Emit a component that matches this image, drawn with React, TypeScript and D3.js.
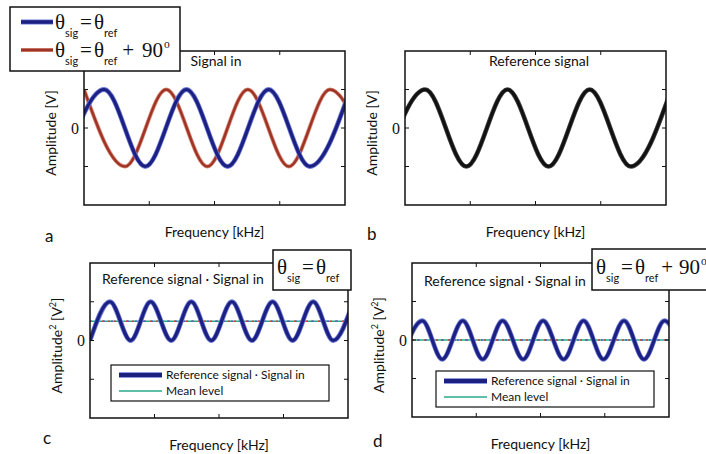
import * as React from 'react';
import * as d3 from 'd3';

// frequency axis (arbitrary units) and amplitude axis
const freqDomain = [0, 4];
const ampDomain = [-2, 2];
const freqTicks = [1, 2, 3];
const ampTicks = [-1, 0, 1];
const ampTickLabels = ['', '0', ''];

// extrema of each trace (x in freq units, y in amplitude)
const sigInX = [-0.31, 0.31, 0.94, 1.57, 2.2, 2.83, 3.46, 4.08];
const sigInY = [-1, 1, -1, 1, -1, 1, -1, 1];
const sig90X = [0, 0.63, 1.26, 1.89, 2.51, 3.14, 3.77, 4.4];
const sig90Y = [1, -1, 1, -1, 1, -1, 1, -1];
const refX = [-0.31, 0.31, 0.94, 1.57, 2.2, 2.83, 3.46, 4.08];
const refY = [-1, 1, -1, 1, -1, 1, -1, 1];
const prodX = [0, 0.31, 0.63, 0.94, 1.26, 1.57, 1.88, 2.2, 2.51, 2.83, 3.14, 3.46, 3.77, 4.08];
const prodY = [0, 1, 0, 1, 0, 1, 0, 1, 0, 1, 0, 1, 0, 1];
const prod90X = [-0.16, 0.16, 0.47, 0.79, 1.1, 1.41, 1.73, 2.04, 2.36, 2.67, 2.98, 3.3, 3.61, 3.93, 4.24];
const prod90Y = [-0.5, 0.5, -0.5, 0.5, -0.5, 0.5, -0.5, 0.5, -0.5, 0.5, -0.5, 0.5, -0.5, 0.5, -0.5];
const meanLevels = [0.5, 0];

const SANS = "Lato, 'Open Sans', sans-serif";
const SERIF = "'Liberation Serif', 'DejaVu Serif', serif";
const BLUE = '#1c2080';
const BLUE_EDGE = '#6a78d4';
const RED = '#9e3426';
const RED_EDGE = '#d88a78';
const TEAL = '#2aa88a';

const zip = (xs, ys) => xs.map((x, i) => [x, ys[i]]);

const Theta = ({ x, y, plus90, size = 21, gap = 8 }) => (
  <text x={x} y={y} fontFamily={SERIF} fontSize={size} fill="#111">
    θ
    <tspan fontFamily={SANS} fontSize={size * 0.52} dy={size * 0.4}>sig</tspan>
    <tspan dy={-size * 0.4} dx={2}>=</tspan>
    <tspan dx={2}>θ</tspan>
    <tspan fontFamily={SANS} fontSize={size * 0.52} dy={size * 0.4}>ref</tspan>
    {plus90 && <tspan dy={-size * 0.4} dx={gap - 3}>+</tspan>}
    {plus90 && <tspan dx={gap}>90</tspan>}
    {plus90 && <tspan fontSize={size * 0.55} dy={-size * 0.45} dx={1}>o</tspan>}
  </text>
);

const Panel = ({ id, left, top, w, h, traces, title, titleX, yLabel, squared, letter, letterX, letterY, mean }) => {
  const x = d3.scaleLinear().domain(freqDomain).range([left, left + w]);
  const y = d3.scaleLinear().domain(ampDomain).range([top + h, top]);
  const line = d3.line().x(d => x(d[0])).y(d => y(d[1])).curve(d3.curveMonotoneX);
  const tk = 4;
  return (
    <g>
      <defs>
        <clipPath id={'clip-' + id}>
          <rect x={left} y={top} width={w} height={h} />
        </clipPath>
      </defs>
      <g clipPath={`url(#clip-${id})`}>
        {mean !== undefined && (
          <g>
            <line x1={left} x2={left + w} y1={y(mean)} y2={y(mean)} stroke={TEAL} strokeWidth={1.5} />
            <line x1={left} x2={left + w} y1={y(mean)} y2={y(mean)} stroke="#d0463a" strokeWidth={1.5} strokeDasharray="2,4" />
            <line x1={left} x2={left + w} y1={y(mean)} y2={y(mean)} stroke="#5565c8" strokeWidth={1.5} strokeDasharray="2,6" strokeDashoffset={3} />
          </g>
        )}
        {traces.map((t, i) => (
          <g key={i}>
            <path d={line(t.data)} fill="none" stroke={t.edge} strokeWidth={t.width + 1.6} />
            <path d={line(t.data)} fill="none" stroke={t.color} strokeWidth={t.width} />
          </g>
        ))}
      </g>
      <rect x={left} y={top} width={w} height={h} fill="none" stroke="#111" strokeWidth={1.5} />
      {freqTicks.map(v => (
        <g key={'x' + v}>
          <line x1={x(v)} x2={x(v)} y1={top + h} y2={top + h - tk} stroke="#111" />
          <line x1={x(v)} x2={x(v)} y1={top} y2={top + tk} stroke="#111" />
        </g>
      ))}
      {ampTicks.map((v, i) => (
        <g key={'y' + v}>
          <line x1={left} x2={left + tk} y1={y(v)} y2={y(v)} stroke="#111" />
          <line x1={left + w} x2={left + w - tk} y1={y(v)} y2={y(v)} stroke="#111" />
          <text x={left - 5} y={y(v)} dy="0.35em" textAnchor="end" fontFamily={SERIF} fontSize={16} fill="#111">
            {ampTickLabels[i]}
          </text>
        </g>
      ))}
      {title && (
        <text x={titleX} y={top + 15} textAnchor="middle" fontFamily={SANS} fontSize={14} fill="#111">{title}</text>
      )}
      <text x={left + w / 2} y={top + h + 32} textAnchor="middle" fontFamily={SANS} fontSize={14} fill="#111">Frequency [kHz]</text>
      <text transform={`translate(${left - 28},${top + h / 2 + 5}) rotate(-90)`} textAnchor="middle" fontFamily={SANS} fontSize={14} fill="#111">
        {squared ? (
          <>Amplitude<tspan fontSize={9} dy={-6}>2</tspan><tspan dy={6}> [V</tspan><tspan fontSize={9} dy={-6}>2</tspan><tspan dy={6}>]</tspan></>
        ) : yLabel}
      </text>
      <text x={letterX} y={letterY} fontFamily={SANS} fontSize={17} fill="#111">{letter}</text>
    </g>
  );
};

const ProductLegend = ({ left, top }) => (
  <g>
    <rect x={left} y={top} width={218} height={36} fill="#fff" stroke="#111" strokeWidth={1.2} />
    <line x1={left + 8} x2={left + 51} y1={top + 10} y2={top + 10} stroke={BLUE_EDGE} strokeWidth={5.5} />
    <line x1={left + 8} x2={left + 51} y1={top + 10} y2={top + 10} stroke={BLUE} strokeWidth={4} />
    <text x={left + 55} y={top + 14} fontFamily={SANS} fontSize={12} fill="#111">Reference signal · Signal in</text>
    <line x1={left + 8} x2={left + 51} y1={top + 26} y2={top + 26} stroke={TEAL} strokeWidth={1.5} />
    <text x={left + 55} y={top + 30} fontFamily={SANS} fontSize={12} fill="#111">Mean level</text>
  </g>
);

export default function App() {
  const blue = { color: BLUE, edge: BLUE_EDGE, width: 3.2 };
  return (
    <svg width={706} height={454} style={{ position: 'absolute', left: 0, top: 0, background: '#fff' }}>
      <rect width={706} height={454} fill="#fff" />
      <Panel
        id="a" left={84} top={51} w={261} h={154}
        traces={[
          { data: zip(sig90X, sig90Y), color: RED, edge: RED_EDGE, width: 2.4 },
          { data: zip(sigInX, sigInY), ...blue },
        ]}
        title="Signal in" titleX={216} yLabel="Amplitude [V]" letter="a" letterX={45} letterY={242}
      />
      <Panel
        id="b" left={405} top={51} w={261} h={154}
        traces={[{ data: zip(refX, refY), color: '#111', edge: '#444', width: 3 }]}
        title="Reference signal" titleX={539} yLabel="Amplitude [V]" letter="b" letterX={367} letterY={240}
      />
      <Panel
        id="c" left={90} top={263} w={258} h={155}
        traces={[{ data: zip(prodX, prodY), ...blue }]}
        mean={meanLevels[0]} squared letter="c" letterX={43} letterY={444}
      />
      <Panel
        id="d" left={412} top={263} w={257} h={154}
        traces={[{ data: zip(prod90X, prod90Y), ...blue }]}
        mean={meanLevels[1]} squared letter="d" letterX={373} letterY={447}
      />
      {/* product panel titles */}
      <text x={102} y={284} fontFamily={SANS} fontSize={14} fill="#111">Reference signal · Signal in</text>
      <text x={424} y={286} fontFamily={SANS} fontSize={14} fill="#111">Reference signal · Signal in</text>
      <ProductLegend left={111} top={365} />
      <ProductLegend left={436} top={371} />

      {/* phase legend, panel a */}
      <rect x={10} y={7} width={170} height={64} fill="#fff" stroke="#111" strokeWidth={1.5} />
      <line x1={21} x2={53} y1={22} y2={22} stroke={BLUE_EDGE} strokeWidth={5} />
      <line x1={21} x2={53} y1={22} y2={22} stroke={BLUE} strokeWidth={3.5} />
      <line x1={21} x2={53} y1={50} y2={50} stroke={RED_EDGE} strokeWidth={4} />
      <line x1={21} x2={53} y1={50} y2={50} stroke={RED} strokeWidth={2.6} />
      <Theta x={55} y={29} />
      <Theta x={55} y={57} plus90 />

      {/* phase boxes, panels c and d */}
      <rect x={273} y={250} width={78} height={40} fill="#fff" stroke="#111" strokeWidth={1.5} />
      <Theta x={277} y={274} />
      <rect x={592} y={249} width={130} height={41} fill="#fff" stroke="#111" strokeWidth={1.5} />
      <Theta x={596} y={274} plus90 gap={6} />
    </svg>
  );
}
